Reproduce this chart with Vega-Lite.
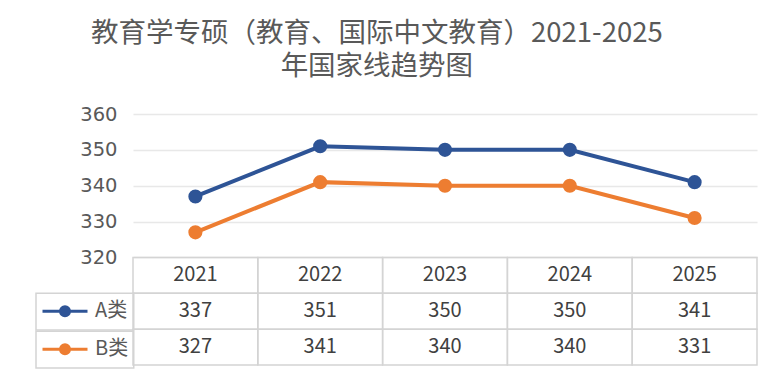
{
  "$schema": "https://vega.github.io/schema/vega-lite/v6.json",
  "width": 624,
  "height": 251,
  "autosize": {"type": "none"},
  "padding": {"left": 133, "top": 114, "right": 24, "bottom": 27},
  "background": "white",
  "config": {
    "view": {"stroke": null}
  },
  "title": {
    "text": ["教育学专硕（教育、国际中文教育）2021-2025", "年国家线趋势图"],
    "font": "Noto Sans CJK SC",
    "fontSize": 27.5,
    "fontWeight": "normal",
    "color": "#595959",
    "lineHeight": 33,
    "anchor": "middle",
    "frame": "bounds",
    "dx": -20,
    "offset": 24
  },
  "data": {"values": [
    {"year": "2021", "series": "A类", "score": 337},
    {"year": "2022", "series": "A类", "score": 351},
    {"year": "2023", "series": "A类", "score": 350},
    {"year": "2024", "series": "A类", "score": 350},
    {"year": "2025", "series": "A类", "score": 341},
    {"year": "2021", "series": "B类", "score": 327},
    {"year": "2022", "series": "B类", "score": 341},
    {"year": "2023", "series": "B类", "score": 340},
    {"year": "2024", "series": "B类", "score": 340},
    {"year": "2025", "series": "B类", "score": 331}
  ]},
  "resolve": {"scale": {"y": "independent"}, "axis": {"y": "independent"}},
  "layer": [
    {
      "mark": {"type": "line", "strokeWidth": 4, "point": {"filled": true, "size": 200, "opacity": 1}},
      "encoding": {
        "x": {"field": "year", "type": "ordinal", "scale": {"type": "band", "paddingInner": 0, "paddingOuter": 0}, "axis": null},
        "y": {
          "field": "score", "type": "quantitative",
          "scale": {"domain": [290, 360], "nice": false, "zero": false},
          "axis": {"values": [320, 330, 340, 350, 360], "grid": true, "gridColor": "#e8e8e8", "gridWidth": 1.5, "domain": false, "ticks": false, "labelFont": "DejaVu Sans", "labelFontSize": 19.5, "labelColor": "#595959", "labelPadding": 16, "title": null}
        },
        "color": {
          "field": "series", "type": "nominal",
          "scale": {"domain": ["A类", "B类"], "range": ["#2E5496", "#ED7D31"]},
          "legend": {
            "orient": "none", "legendX": -97, "legendY": 179.3, "title": null,
            "padding": 0, "rowPadding": 0, "clipHeight": 35.86,
            "symbolType": "M-1,0H1M0.2,0A0.2,0.2,0,1,1,-0.2,0A0.2,0.2,0,1,1,0.2,0M0.07,0A0.07,0.07,0,1,1,-0.07,0A0.07,0.07,0,1,1,0.07,0",
            "symbolSize": 2025, "symbolStrokeWidth": 3, "symbolOffset": 5,
            "labelFont": "Noto Sans CJK SC", "labelFontSize": 20, "labelColor": "#595959", "labelOffset": 6,
            "encode": {"entries": {"update": {"width": {"value": 97}, "stroke": {"value": "#d4d4d4"}, "strokeWidth": {"value": 1.5}}}}
          }
        }
      }
    },
    {
      "mark": {"type": "rect", "filled": false, "stroke": "#d4d4d4", "strokeWidth": 1.5},
      "encoding": {
        "x": {"field": "year", "type": "ordinal", "scale": {"type": "band", "paddingInner": 0, "paddingOuter": 0}, "axis": null},
        "y": {"field": "series", "type": "nominal", "scale": {"type": "band", "domain": ["s1", "s2", "s3", "s4", "header", "A类", "B类"], "paddingInner": 0, "paddingOuter": 0}, "axis": null}
      }
    },
    {
      "transform": [{"filter": "datum.series === 'A类'"}],
      "mark": {"type": "rect", "filled": false, "stroke": "#d4d4d4", "strokeWidth": 1.5},
      "encoding": {
        "x": {"field": "year", "type": "ordinal", "scale": {"type": "band", "paddingInner": 0, "paddingOuter": 0}, "axis": null},
        "y": {"datum": "header", "type": "nominal", "scale": {"type": "band", "domain": ["s1", "s2", "s3", "s4", "header", "A类", "B类"], "paddingInner": 0, "paddingOuter": 0}, "axis": null}
      }
    },
    {
      "transform": [{"filter": "datum.series === 'A类'"}],
      "mark": {"type": "text", "font": "Noto Sans CJK SC", "fontSize": 20, "color": "#404040"},
      "encoding": {
        "x": {"field": "year", "type": "ordinal", "scale": {"type": "band", "paddingInner": 0, "paddingOuter": 0}, "axis": null},
        "y": {"datum": "header", "type": "nominal", "scale": {"type": "band", "domain": ["s1", "s2", "s3", "s4", "header", "A类", "B类"], "paddingInner": 0, "paddingOuter": 0}, "axis": null},
        "text": {"field": "year"}
      }
    },
    {
      "mark": {"type": "text", "font": "Noto Sans CJK SC", "fontSize": 20, "color": "#404040"},
      "encoding": {
        "x": {"field": "year", "type": "ordinal", "scale": {"type": "band", "paddingInner": 0, "paddingOuter": 0}, "axis": null},
        "y": {"field": "series", "type": "nominal", "scale": {"type": "band", "domain": ["s1", "s2", "s3", "s4", "header", "A类", "B类"], "paddingInner": 0, "paddingOuter": 0}, "axis": null},
        "text": {"field": "score"}
      }
    }
  ]
}
